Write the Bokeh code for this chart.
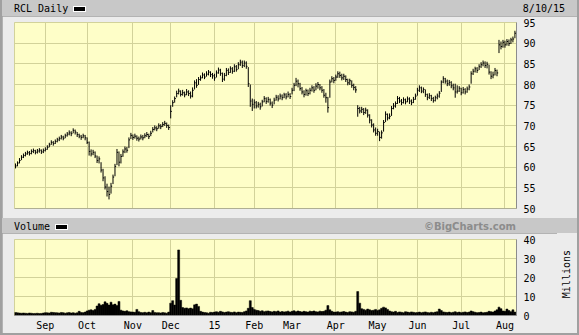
import numpy as np
from bokeh.plotting import figure
from bokeh.models import Range1d, FixedTicker, Div, Span, ColumnDataSource
from bokeh.layouts import column, row
from bokeh.embed import file_html
from bokeh.resources import INLINE

# ---------------- data ----------------
symbol = "RCL Daily"
last_date = "8/10/15"
month_labels = ["Sep", "Oct", "Nov", "Dec", "15", "Feb", "Mar", "Apr", "May", "Jun", "Jul", "Aug"]
# trading days per month, Aug-2014 (from Aug 11) .. Aug-2015 (to Aug 10)
days_per_month = [15, 21, 23, 19, 22, 20, 19, 22, 21, 20, 22, 22, 6]
price_ticks = [50, 55, 60, 65, 70, 75, 80, 85, 90, 95]
volume_ticks = [0, 10, 20, 30, 40]

close = [
    # Aug 14
    60.3, 61.0, 61.6, 62.4, 62.8, 63.2, 63.5, 63.3, 63.8, 64.0, 63.6, 63.9, 64.1, 63.7, 64.0,
    # Sep
    64.3, 64.8, 65.4, 66.0, 65.7, 66.2, 66.6, 66.9, 67.3, 67.0, 67.6, 68.0, 68.3, 68.1, 68.9, 68.5, 67.9, 67.5, 67.2, 67.6, 67.1,
    # Oct
    66.0, 63.8, 63.2, 63.6, 62.7, 61.6, 62.0, 59.3, 57.4, 55.2, 54.1, 53.4, 55.4, 57.6, 60.2, 63.6, 61.2, 62.6, 63.7, 64.4, 64.1, 66.6, 67.7,
    # Nov
    67.2, 67.5, 67.0, 66.8, 67.3, 67.1, 67.6, 67.9, 67.4, 68.2, 69.1, 69.5, 69.3, 70.0, 69.8, 70.3, 70.6, 70.1, 69.6,
    # Dec
    73.5, 75.6, 76.6, 77.8, 78.4, 77.6, 78.0, 77.5, 78.2, 77.8, 77.2, 78.6, 80.4, 79.8, 81.2, 81.6, 82.3, 81.8, 82.5, 83.0, 82.4, 82.1,
    # Jan 15
    81.6, 82.8, 83.5, 82.7, 81.3, 82.2, 83.4, 82.9, 83.8, 83.2, 84.3, 83.6, 84.8, 85.4, 84.6, 85.2, 84.4, 80.2, 76.0, 75.2,
    # Feb
    75.6, 74.8, 75.2, 74.6, 75.8, 76.6, 75.9, 76.4, 75.5, 75.0, 76.2, 76.9, 76.5, 77.2, 76.8, 77.5, 77.0, 77.6, 77.1,
    # Mar
    78.6, 79.8, 80.8, 80.2, 79.0, 78.2, 77.6, 78.5, 77.8, 78.6, 79.2, 78.6, 79.6, 80.0, 79.2, 78.6, 77.4, 76.8, 74.4, 80.6, 81.4, 81.0,
    # Apr
    81.8, 82.6, 82.2, 81.6, 82.0, 81.2, 80.4, 80.9, 79.8, 79.3, 78.7, 74.2, 73.6, 74.0, 73.2, 73.8, 72.6, 71.4, 70.2, 69.0, 68.2,
    # May
    68.6, 67.2, 68.3, 70.8, 72.8, 71.9, 72.3, 74.2, 74.8, 75.4, 76.6, 76.0, 75.6, 76.3, 75.8, 76.5, 76.0, 75.6, 76.4, 77.2,
    # Jun
    78.6, 79.2, 78.4, 78.8, 77.6, 76.9, 77.3, 76.6, 76.1, 76.8, 77.2, 77.9, 80.6, 81.4, 80.8, 80.2, 80.5, 79.7, 79.2, 78.2, 78.4, 79.1,
    # Jul
    78.0, 78.8, 78.2, 78.9, 79.4, 82.6, 83.2, 83.8, 83.4, 84.3, 84.8, 85.2, 84.6, 84.9, 83.0, 82.0, 82.3, 83.4, 82.8, 89.6, 89.2, 90.2,
    # Aug
    89.6, 90.4, 89.9, 90.8, 91.0, 92.4,
]

high = [
    60.9, 61.4, 62.2, 62.9, 63.3, 63.7, 64.0, 63.9, 64.3, 64.5, 64.2, 64.4, 64.6, 64.3, 64.5,
    64.8, 65.3, 65.9, 66.5, 66.3, 66.7, 67.1, 67.4, 67.8, 67.6, 68.1, 68.5, 68.9, 68.7, 69.4, 69.1, 68.5, 68.1, 67.8, 68.1, 67.8,
    67.2, 66.2, 64.3, 64.2, 63.8, 62.8, 62.6, 61.2, 59.6, 57.8, 56.0, 55.3, 56.2, 58.2, 60.8, 64.4, 63.8, 63.2, 64.3, 65.0, 64.9, 67.2, 68.3,
    67.9, 68.1, 67.7, 67.4, 67.9, 67.8, 68.2, 68.5, 68.1, 68.8, 69.7, 70.1, 69.9, 70.6, 70.4, 70.9, 71.2, 70.8, 70.3,
    75.0, 76.2, 77.1, 78.5, 79.0, 78.6, 78.7, 78.3, 78.9, 78.6, 78.3, 79.3, 81.0, 81.3, 81.8, 82.2, 82.9, 82.7, 83.2, 83.5, 83.2, 82.8,
    82.6, 83.4, 84.1, 83.8, 82.9, 82.8, 84.0, 83.9, 84.4, 84.2, 84.9, 84.7, 85.4, 86.0, 85.8, 85.8, 85.6, 84.2, 80.0, 76.6,
    76.4, 76.0, 75.8, 75.6, 76.3, 77.2, 76.9, 77.0, 76.6, 75.9, 76.8, 77.5, 77.4, 77.8, 77.6, 78.0, 77.9, 78.3, 77.9,
    79.2, 80.4, 81.6, 81.2, 80.4, 79.4, 78.6, 79.0, 78.8, 79.2, 79.8, 79.6, 80.3, 80.6, 80.1, 79.6, 78.9, 78.0, 77.0, 81.2, 82.0, 81.8,
    82.4, 83.2, 83.1, 82.6, 82.6, 82.2, 81.4, 81.4, 81.0, 80.2, 79.6, 75.0, 74.6, 74.6, 74.3, 74.4, 74.0, 72.8, 71.6, 70.6, 69.6,
    69.3, 68.6, 68.9, 71.4, 73.5, 73.0, 73.0, 74.8, 75.5, 75.9, 77.2, 77.0, 76.5, 76.9, 76.6, 77.1, 76.9, 76.4, 77.0, 77.8,
    79.2, 79.8, 79.5, 79.3, 78.8, 77.8, 77.9, 77.5, 77.0, 77.3, 77.8, 78.4, 81.0, 82.0, 81.6, 81.2, 81.1, 80.8, 80.2, 80.2, 79.8, 79.6,
    79.2, 79.4, 79.1, 79.5, 80.0, 83.2, 83.8, 84.3, 84.2, 84.9, 85.4, 85.8, 85.6, 85.5, 84.8, 83.2, 83.1, 84.0, 83.6, 90.8, 90.4, 90.8,
    90.6, 91.0, 90.9, 91.3, 91.6, 93.0,
]

low = [
    59.7, 60.2, 60.9, 61.7, 62.2, 62.6, 63.0, 62.8, 63.1, 63.4, 63.1, 63.3, 63.5, 63.2, 63.4,
    63.8, 64.2, 64.8, 65.4, 65.2, 65.6, 66.0, 66.3, 66.7, 66.5, 67.0, 67.4, 67.7, 67.5, 68.2, 67.9, 67.3, 67.0, 66.6, 67.0, 66.5,
    65.6, 62.8, 62.6, 62.9, 62.2, 61.0, 60.9, 58.7, 56.6, 54.6, 52.9, 52.2, 53.6, 55.9, 57.8, 60.5, 60.2, 60.9, 62.5, 63.4, 63.5, 64.6, 66.8,
    66.6, 66.9, 66.4, 66.2, 66.7, 66.5, 67.0, 67.3, 66.8, 67.5, 68.4, 68.9, 68.7, 69.3, 69.2, 69.7, 70.0, 69.5, 69.0,
    71.8, 74.6, 75.6, 76.9, 77.6, 77.1, 77.3, 76.9, 77.4, 77.2, 76.6, 76.9, 78.8, 79.2, 79.9, 80.9, 81.5, 81.3, 81.9, 82.2, 81.8, 81.4,
    80.9, 81.7, 82.6, 82.1, 80.6, 80.9, 82.0, 82.3, 82.8, 82.6, 83.0, 83.1, 83.7, 84.5, 84.0, 84.2, 83.8, 79.4, 74.6, 73.6,
    74.2, 74.2, 74.4, 73.9, 74.7, 75.7, 75.3, 75.6, 74.9, 74.3, 75.2, 76.1, 75.9, 76.4, 76.2, 76.7, 76.4, 76.9, 76.5,
    77.6, 78.4, 79.6, 79.3, 78.5, 77.6, 76.9, 77.3, 77.2, 77.6, 78.3, 78.0, 78.6, 79.0, 78.6, 78.0, 76.8, 75.6, 73.2, 76.8, 80.5, 80.3,
    80.9, 81.6, 81.6, 81.0, 81.1, 80.6, 79.8, 79.9, 79.2, 78.6, 78.0, 72.2, 73.0, 73.1, 72.6, 72.9, 72.0, 70.6, 69.6, 68.4, 67.6,
    67.6, 66.3, 66.9, 68.6, 70.9, 71.3, 71.6, 72.4, 74.0, 74.4, 75.3, 75.5, 75.0, 75.4, 75.2, 75.7, 75.3, 75.0, 75.5, 76.3,
    77.3, 78.2, 77.9, 77.9, 77.0, 76.2, 76.5, 76.0, 75.6, 75.9, 76.4, 76.8, 78.2, 80.3, 80.2, 79.6, 79.7, 79.1, 78.6, 76.8, 77.8, 78.2,
    77.4, 77.8, 77.6, 78.0, 78.6, 80.2, 82.3, 82.9, 82.8, 83.5, 84.0, 84.4, 84.0, 83.9, 82.4, 81.3, 81.5, 82.2, 82.0, 87.6, 88.5, 88.9,
    88.9, 89.4, 89.3, 89.8, 90.2, 91.2,
]

volume_millions = [
    1.6, 1.4, 1.3, 1.2, 1.3, 1.2, 1.1, 1.3, 1.2, 1.0, 1.1, 1.2, 1.0, 1.1, 1.3,
    1.5, 1.4, 1.3, 1.7, 1.6, 1.5, 1.4, 1.3, 1.6, 1.5, 1.2, 1.4, 1.6, 1.3, 1.5, 1.2, 1.4, 2.2, 1.6, 1.5, 1.8,
    2.4, 2.8, 3.0, 2.6, 3.2, 5.0, 6.2, 5.4, 5.8, 7.2, 6.4, 5.5, 7.0, 5.6, 6.0, 5.2, 7.4, 2.8, 2.4, 2.2, 2.5, 2.0, 1.9,
    1.8, 1.7, 3.2, 2.0, 1.6, 1.5, 1.7, 1.4, 1.8, 1.5, 2.6, 1.6, 1.4, 1.5, 1.3, 1.6, 1.4, 1.2, 1.8,
    6.5, 7.8, 5.5, 19.5, 34.5, 8.0, 4.2, 3.8, 4.0, 3.6, 3.9, 3.5, 5.6, 6.0, 4.8, 2.2, 1.8, 1.6, 1.5, 1.2, 1.7, 1.6,
    1.8, 2.0, 1.7, 2.2, 1.9, 1.6, 1.8, 2.0, 1.7, 1.6, 1.9, 1.5, 1.8, 1.7, 1.6, 2.0, 2.4, 3.8, 7.8, 4.2,
    3.2, 2.8, 2.6, 2.2, 2.5, 2.0, 2.3, 2.4, 2.1, 1.9, 2.2, 2.0, 2.4, 1.8, 2.1, 1.9, 2.0, 2.3, 1.8,
    2.2, 2.5, 2.0, 2.4, 2.1, 1.9, 2.2, 2.0, 1.8, 2.3, 2.1, 2.4, 2.0, 1.9, 2.3, 2.1, 2.2, 2.8, 5.2, 3.0, 2.2, 1.8,
    1.8, 2.0, 1.7, 1.9, 2.1, 1.8, 1.6, 2.0, 1.9, 1.7, 2.2, 12.6, 6.5, 3.6, 3.2, 2.8, 3.4, 3.0, 2.6, 2.8, 3.2,
    2.6, 3.0, 3.8, 4.4, 4.0, 3.2, 2.4, 2.0, 1.8, 2.2, 1.6, 1.9, 1.7, 1.5, 2.0, 1.8, 1.6, 1.9, 1.7, 1.5,
    1.6, 1.8, 1.5, 1.7, 1.9, 1.6, 1.4, 1.7, 1.5, 1.8, 2.0, 3.4, 2.6, 1.9, 1.7, 1.6, 1.8, 1.5, 1.7, 2.0, 1.6, 1.8,
    1.5, 1.7, 1.9, 1.6, 1.8, 2.4, 2.0, 1.7, 1.5, 1.6, 1.8, 1.4, 1.6, 1.7, 2.2, 2.0, 1.8, 2.4, 3.0, 4.4, 3.6, 2.4,
    2.2, 3.4, 2.6, 2.0, 3.0, 1.8,
]
volume_unit = "Millions"

# ---------------- styling ----------------
FONT = "DejaVu Sans Mono"
PANEL_BG = "#ececec"
BAND_BG = "#c8c8c8"
PLOT_BG = "#fefec8"
GRID = "#d2d29a"
EDGE = "#8c8c8c"
BORDER = "#a0a0a0"

n = len(close)
idx = np.arange(n)
tick_pos = list(np.cumsum(days_per_month)[:-1])
overrides = {int(t): lab for t, lab in zip(tick_pos, month_labels)}
x_range = Range1d(-0.5, n - 0.2)

# ---------------- price panel ----------------
p = figure(width=575, height=202, x_range=x_range, y_range=Range1d(50, 95),
           output_backend="svg", toolbar_location=None,
           x_axis_location=None, y_axis_location="right",
           min_border_left=12, min_border_right=61, min_border_top=6, min_border_bottom=10,
           background_fill_color=PLOT_BG, border_fill_color=PANEL_BG,
           outline_line_color=GRID, margin=(0, 2, 0, 2))
p.xgrid.ticker = FixedTicker(ticks=tick_pos)
p.xgrid.grid_line_color = GRID
p.ygrid.grid_line_color = GRID
p.yaxis.ticker = FixedTicker(ticks=price_ticks)
p.yaxis.major_tick_out = 0
p.yaxis.major_tick_in = 0
p.yaxis.axis_line_color = EDGE
p.yaxis.major_label_standoff = 7
p.yaxis.major_label_text_font = FONT
p.yaxis.major_label_text_font_size = "10px"
p.yaxis.major_label_text_color = "black"
p.add_layout(Span(location=50, dimension="width", line_color=EDGE, line_width=1))

src = ColumnDataSource(dict(x=idx, hi=high, lo=low, c=close, cx=idx + 0.6))
p.segment(x0="x", y0="lo", x1="x", y1="hi", source=src, line_color="black", line_width=1)
p.segment(x0="x", y0="c", x1="cx", y1="c", source=src, line_color="black", line_width=1)

# ---------------- volume panel ----------------
v = figure(width=555, height=100, x_range=x_range, y_range=Range1d(0, 40),
           output_backend="svg", toolbar_location=None, y_axis_location="right",
           min_border_left=12, min_border_right=41, min_border_top=6, min_border_bottom=16,
           background_fill_color=PLOT_BG, border_fill_color=PANEL_BG,
           outline_line_color=GRID, margin=(0, 0, 2, 2))
v.xgrid.ticker = FixedTicker(ticks=tick_pos)
v.xgrid.grid_line_color = GRID
v.ygrid.grid_line_color = GRID
v.xaxis.ticker = FixedTicker(ticks=tick_pos)
v.xaxis.major_label_overrides = overrides
v.xaxis.major_tick_out = 0
v.xaxis.major_tick_in = 0
v.xaxis.axis_line_color = EDGE
v.xaxis.major_label_standoff = 4
v.xaxis.major_label_text_font = FONT
v.xaxis.major_label_text_font_size = "10px"
v.xaxis.major_label_text_color = "black"
v.yaxis.ticker = FixedTicker(ticks=volume_ticks)
v.yaxis.major_tick_out = 0
v.yaxis.major_tick_in = 0
v.yaxis.axis_line_color = EDGE
v.yaxis.major_label_standoff = 7
v.yaxis.major_label_text_font = FONT
v.yaxis.major_label_text_font_size = "10px"
v.yaxis.major_label_text_color = "black"

v.vbar(x=idx, top=volume_millions, width=1.0, fill_color="black", line_color="black", line_width=0.5)

# vertical unit label, reading bottom-to-top
unit_div = Div(
    text=('<div style="box-sizing:border-box;width:20px;height:100px;padding-top:17px;'
          'display:flex;justify-content:center;align-items:flex-start;">'
          '<span style="writing-mode:vertical-rl;transform:rotate(180deg);'
          "font-family:'DejaVu Sans Mono';font-size:10px;line-height:10px;color:#000\">"
          f'{volume_unit}</span></div>'),
    width=20, height=100, margin=(0, 2, 2, 0), styles={"background-color": PANEL_BG})

# ---------------- header bands ----------------
swatch = ('<span style="display:inline-block;box-sizing:content-box;width:11px;height:4px;'
          'background-color:#000;border:1px solid #fff;margin-left:5px;vertical-align:middle"></span>')
band_css = ("display:flex;justify-content:space-between;align-items:center;box-sizing:border-box;"
            "width:575px;height:{h}px;padding:0 {pr}px 0 12px;font-family:'DejaVu Sans Mono';"
            "font-size:10px;color:#000;line-height:1;")

h1 = Div(text=f'<div style="{band_css.format(h=16, pr=12)}"><span>{symbol}{swatch}</span>'
              f'<span>{last_date}</span></div>',
         width=575, height=16, margin=(0, 2, 0, 2), styles={"background-color": BAND_BG})
h2 = Div(text=f'<div style="{band_css.format(h=15, pr=61)}"><span>Volume{swatch}</span>'
              f'<span style="font-family:\'DejaVu Sans\';font-weight:bold;color:#8c8c8c">'
              f'&copy;BigCharts.com</span></div>',
         width=575, height=15, margin=(0, 2, 0, 2), styles={"background-color": BAND_BG})

layout = column(h1, p, h2, row(v, unit_div, spacing=0), spacing=0,
                styles={"background-color": BORDER})

open("out.html", "w").write(file_html(layout, INLINE))
